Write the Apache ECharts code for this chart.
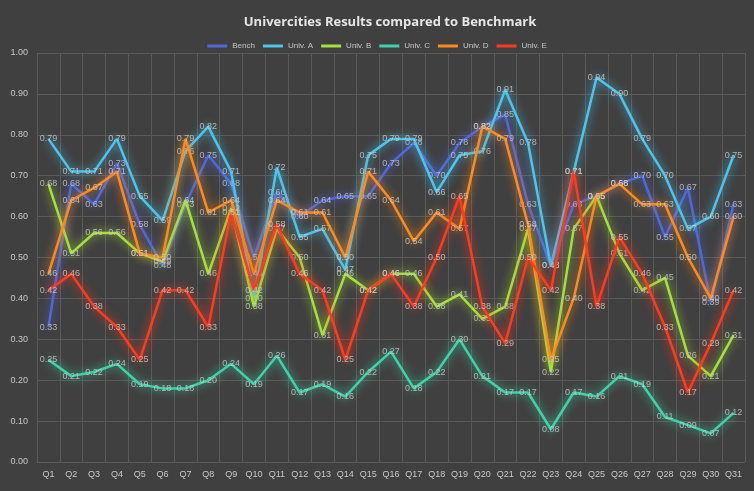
<!DOCTYPE html>
<html>
<head>
<meta charset="utf-8">
<script src="https://cdn.jsdelivr.net/npm/echarts@6/dist/echarts.min.js"></script>
<style>
    html, body { margin: 0; padding: 0; background: #404040; }
    #chart { width: 754px; height: 491px; }
</style>
</head>
<body>
<div id="chart"></div>
<script>
// categories Q1..Q31
const quarters = ['Q1','Q2','Q3','Q4','Q5','Q6','Q7','Q8','Q9','Q10','Q11','Q12','Q13','Q14','Q15','Q16',
    'Q17','Q18','Q19','Q20','Q21','Q22','Q23','Q24','Q25','Q26','Q27','Q28','Q29','Q30','Q31'];

const bench = [0.33,0.68,0.63,0.73,0.58,0.48,0.63,0.75,0.68,0.50,0.66,0.60,0.64,0.65,0.65,0.73,
    0.78,0.70,0.78,0.82,0.85,0.63,0.48,0.63,0.65,0.68,0.70,0.55,0.67,0.39,0.63];
const univA = [0.79,0.71,0.71,0.79,0.65,0.59,0.76,0.82,0.71,0.40,0.72,0.55,0.57,0.47,0.75,0.79,
    0.79,0.66,0.75,0.76,0.91,0.78,0.48,0.71,0.94,0.90,0.79,0.70,0.57,0.60,0.75];
const univB = [0.68,0.51,0.56,0.56,0.51,0.49,0.64,0.46,0.62,0.38,0.57,0.50,0.31,0.46,0.42,0.46,
    0.46,0.38,0.41,0.35,0.38,0.57,0.22,0.57,0.65,0.51,0.42,0.45,0.26,0.21,0.31];
const univC = [0.25,0.21,0.22,0.24,0.19,0.18,0.18,0.20,0.24,0.19,0.26,0.17,0.19,0.16,0.22,0.27,
    0.18,0.22,0.30,0.21,0.17,0.17,0.08,0.17,0.16,0.21,0.19,0.11,0.09,0.07,0.12];
const univD = [0.46,0.64,0.67,0.71,0.51,0.50,0.79,0.61,0.64,0.46,0.64,0.61,0.61,0.50,0.71,0.64,
    0.54,0.61,0.57,0.82,0.79,0.58,0.25,0.40,0.65,0.68,0.63,0.63,0.50,0.40,0.60];
const univE = [0.42,0.46,0.38,0.33,0.25,0.42,0.42,0.33,0.61,0.42,0.58,0.46,0.42,0.25,0.42,0.46,
    0.38,0.50,0.65,0.38,0.29,0.50,0.42,0.71,0.38,0.55,0.46,0.33,0.17,0.29,0.42];

const seriesNames = ['Bench', 'Univ. A', 'Univ. B', 'Univ. C', 'Univ. D', 'Univ. E'];
const seriesData = [bench, univA, univB, univC, univD, univE];
const colors = ['#5068d8', '#4cc4ec', '#a6e03a', '#3ed2aa', '#ff8a1c', '#ff3a1e'];

const chart = echarts.init(document.getElementById('chart'));

const makeSeries = (name, data, i) => ({
    name: name,
    type: 'line',
    data: data,
    symbol: 'circle',
    symbolSize: 1,
    z: 2 + i,
    itemStyle: { color: colors[i] },
    lineStyle: {
        width: 2.5,
        color: colors[i],
        shadowBlur: 10,
        shadowColor: colors[i]
    },
    label: {
        show: true,
        position: 'inside',
        color: 'rgba(205,205,205,0.8)',
        fontSize: 9,
        fontFamily: 'Liberation Sans',
        formatter: p => p.value.toFixed(2)
    },
    emphasis: { disabled: true }
});

const option = {
    backgroundColor: '#404040',
    animation: false,
    color: colors,
    title: {
        text: 'Univercities Results compared to Benchmark',
        left: 385,
        textAlign: 'center',
        top: 11,
        textStyle: {
            color: '#e6e6e6',
            fontSize: 13,
            fontWeight: 'bold',
            fontFamily: 'Open Sans'
        }
    },
    legend: {
        data: seriesNames,
        top: 37,
        left: 'center',
        itemWidth: 20,
        itemHeight: 3,
        itemGap: 8,
        icon: 'rect',
        textStyle: { color: '#c8c8c8', fontSize: 8, fontFamily: 'Liberation Sans' }
    },
    grid: {
        left: 37,
        right: 9,
        top: 53,
        bottom: 29
    },
    xAxis: {
        type: 'category',
        data: quarters,
        boundaryGap: true,
        axisLine: { show: false },
        axisTick: { show: false },
        axisLabel: {
            color: '#c8c8c8',
            fontSize: 9,
            margin: 8,
            interval: 0,
            fontFamily: 'Liberation Sans'
        },
        splitLine: { show: true, lineStyle: { color: '#5a5a5a', width: 1 } }
    },
    yAxis: {
        type: 'value',
        min: 0,
        max: 1,
        interval: 0.1,
        axisLine: { show: false },
        axisTick: { show: false },
        axisLabel: {
            color: '#c8c8c8',
            fontSize: 9,
            margin: 9,
            fontFamily: 'Liberation Sans',
            formatter: v => v.toFixed(2)
        },
        splitLine: { lineStyle: { color: '#5a5a5a', width: 1 } }
    },
    series: seriesNames.map((n, i) => makeSeries(n, seriesData[i], i))
};

chart.setOption(option);
</script>
</body>
</html>
